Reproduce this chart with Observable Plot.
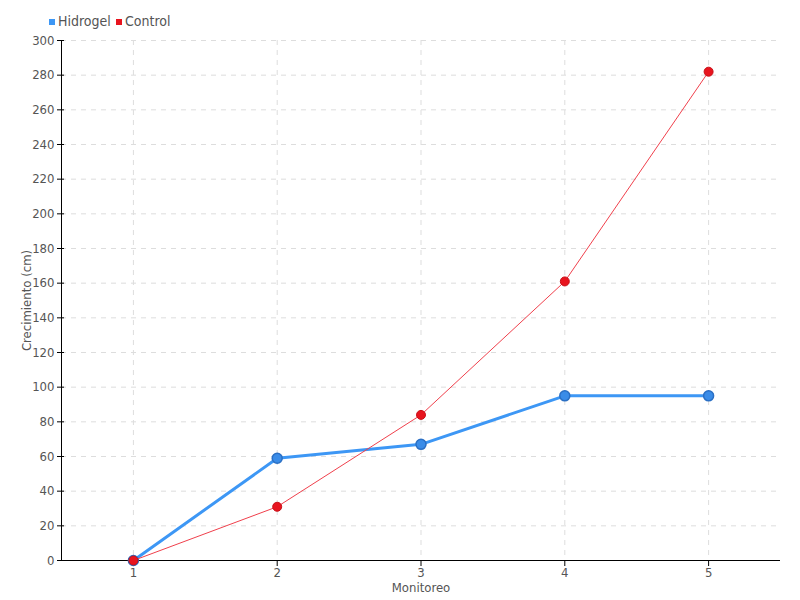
<!DOCTYPE html>
<html>
<head>
<meta charset="utf-8">
<script src="https://cdn.jsdelivr.net/npm/d3@7"></script>
<script src="https://cdn.jsdelivr.net/npm/@observablehq/plot@0.6"></script>
<style>
  body { margin: 0; background: #fff; font-family: "DejaVu Sans Condensed", "DejaVu Sans", sans-serif; }
  #legend { height: 30px; position: relative; font-size: 14px; color: #555; }
  .item { position: absolute; top: 13px; display: flex; align-items: center; }
  .sw { width: 6px; height: 6px; margin-right: 3px; margin-top: 2px; }
</style>
</head>
<body>
<div id="legend"></div>
<div id="chart"></div>
<script>
const monitoreo = [1, 2, 3, 4, 5];
const hidrogel = [0, 59, 67, 95, 95];
const control = [0, 31, 84, 161, 282];
const yTicks = d3.range(0, 301, 20);
const series = [
  {name: "Hidrogel", color: "#3d97f5"},
  {name: "Control", color: "#e8141e"}
];

const legend = document.getElementById("legend");
series.forEach((s, i) => {
  const d = document.createElement("div");
  d.className = "item";
  d.style.left = (i === 0 ? 49 : 116) + "px";
  d.innerHTML = `<span class="sw" style="background:${s.color}"></span><span>${s.name}</span>`;
  legend.appendChild(d);
});

const hData = monitoreo.map((m, i) => ({m, v: hidrogel[i]}));
const cData = monitoreo.map((m, i) => ({m, v: control[i]}));

const chart = Plot.plot({
  width: 800,
  height: 570,
  marginLeft: 61,
  marginRight: 20,
  marginTop: 10,
  marginBottom: 40,
  style: {fontFamily: "DejaVu Sans Condensed, DejaVu Sans, sans-serif", fontSize: "13px", color: "#555"},
  x: {domain: [0.5, 5.5]},
  y: {domain: [0, 300]},
  marks: [
    Plot.gridY(yTicks, {stroke: "#ddd", strokeOpacity: 1, strokeDasharray: "5,5"}),
    Plot.gridX(monitoreo, {stroke: "#ddd", strokeOpacity: 1, strokeDasharray: "5,5"}),
    Plot.axisY(yTicks, {tickSize: 4, tickPadding: 3, stroke: "#000", fill: "#555", label: "Crecimiento (cm)", labelAnchor: "center", labelOffset: 40, labelArrow: "none"}),
    Plot.axisY(yTicks, {tickSize: -3, text: null, stroke: "#000", label: null}),
    Plot.axisX(monitoreo, {tickSize: 6, tickPadding: 1, stroke: "#000", fill: "#555", label: "Monitoreo", labelAnchor: "center", labelOffset: 31, labelArrow: "none", tickFormat: d => d}),
    Plot.ruleX([0.5], {stroke: "#000", strokeWidth: 1}),
    Plot.ruleY([0], {stroke: "#000", strokeWidth: 1}),
    Plot.line(hData, {x: "m", y: "v", stroke: "#3d97f5", strokeWidth: 3}),
    Plot.dot(hData, {x: "m", y: "v", r: 5, fill: "#3a8ce8", stroke: "#2a6fc4", strokeWidth: 1.5}),
    Plot.line(cData, {x: "m", y: "v", stroke: "#f0404c", strokeWidth: 1}),
    Plot.dot(cData, {x: "m", y: "v", r: 4.5, fill: "#e8141e", stroke: "#c81018", strokeWidth: 1})
  ]
});
document.getElementById("chart").appendChild(chart);
</script>
</body>
</html>
